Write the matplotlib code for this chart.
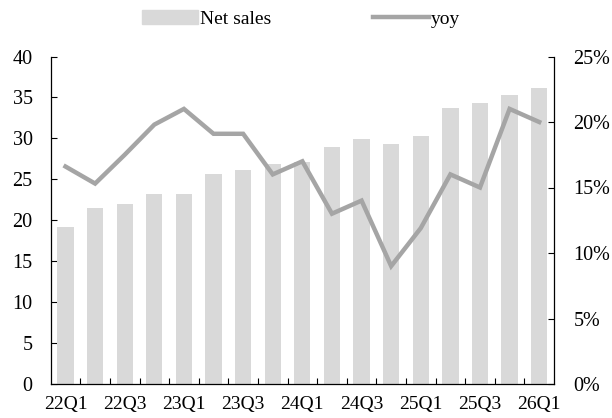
import matplotlib
matplotlib.use("Agg")
import matplotlib.pyplot as plt
import numpy as np
from matplotlib.lines import Line2D
from matplotlib.patches import Patch

plt.rcParams['font.family'] = ['Liberation Serif', 'DejaVu Serif']

quarters = ["22Q1", "22Q2", "22Q3", "22Q4", "23Q1", "23Q2", "23Q3", "23Q4",
            "24Q1", "24Q2", "24Q3", "24Q4", "25Q1", "25Q2", "25Q3", "25Q4", "26Q1"]
net_sales = [19.2, 21.5, 22.0, 23.2, 23.2, 25.6, 26.1, 26.9, 27.1, 29.0,
             29.9, 29.3, 30.3, 33.7, 34.3, 35.3, 36.2]
yoy = [16.6, 15.3, 17.5, 19.8, 21.0, 19.1, 19.1, 16.0, 17.0, 13.0,
       14.0, 9.0, 11.9, 16.0, 15.0, 21.0, 20.0]

bar_color = "#d9d9d9"
line_color = "#a5a5a5"

fig = plt.figure(figsize=(6.12, 4.18), dpi=100)
ax = fig.add_axes([50.7 / 612, 1 - 384 / 418, (554 - 50.7) / 612, (384 - 56.5) / 418])
ax2 = ax.twinx()

x = np.arange(len(quarters))
ax.bar(x, net_sales, width=0.55, color=bar_color, zorder=2)
ax2.plot(x, yoy, color=line_color, lw=3.2, solid_joinstyle="miter", zorder=3)

ax.set_xlim(-0.5, len(quarters) - 0.5)
ax.set_ylim(0, 40)
ax.set_yticks(range(0, 41, 5))
ax2.set_ylim(0, 25)
ax2.set_yticks(range(0, 26, 5))
ax2.set_yticklabels([f"{v}%" for v in range(0, 26, 5)])

# labels on every other quarter, small inward ticks between the bars
ax.set_xticks(x[::2])
ax.set_xticklabels(quarters[::2])
ax.set_xticks(np.arange(0.5, len(quarters) - 1, 1.0), minor=True)
ax.tick_params(axis="x", which="major", length=0, pad=9, labelsize=14, colors="black")
ax.tick_params(axis="x", which="minor", direction="in", length=4.5, width=0.8)
ax.tick_params(axis="y", direction="in", length=4.5, width=0.8, pad=13, labelsize=14.5)
ax2.tick_params(axis="y", direction="in", length=4.5, width=0.8, pad=14, labelsize=14.5)

for a in (ax, ax2):
    a.spines["top"].set_visible(False)
    for s in ("left", "right", "bottom"):
        a.spines[s].set_linewidth(0.9)
ax.spines["right"].set_visible(False)
ax2.spines["left"].set_visible(False)
ax2.spines["bottom"].set_visible(False)

handles = [Patch(color=bar_color, label="Net sales"),
           Line2D([0], [0], color=line_color, lw=3.2, label="yoy")]
fig.legend(handles=handles, loc="center", bbox_to_anchor=(301 / 612, 1 - 19 / 418),
           ncol=2, frameon=False, fontsize=14, handlelength=2.9, handletextpad=0.1,
           columnspacing=5.2, borderaxespad=0)

fig.savefig("out.png", dpi=100)
